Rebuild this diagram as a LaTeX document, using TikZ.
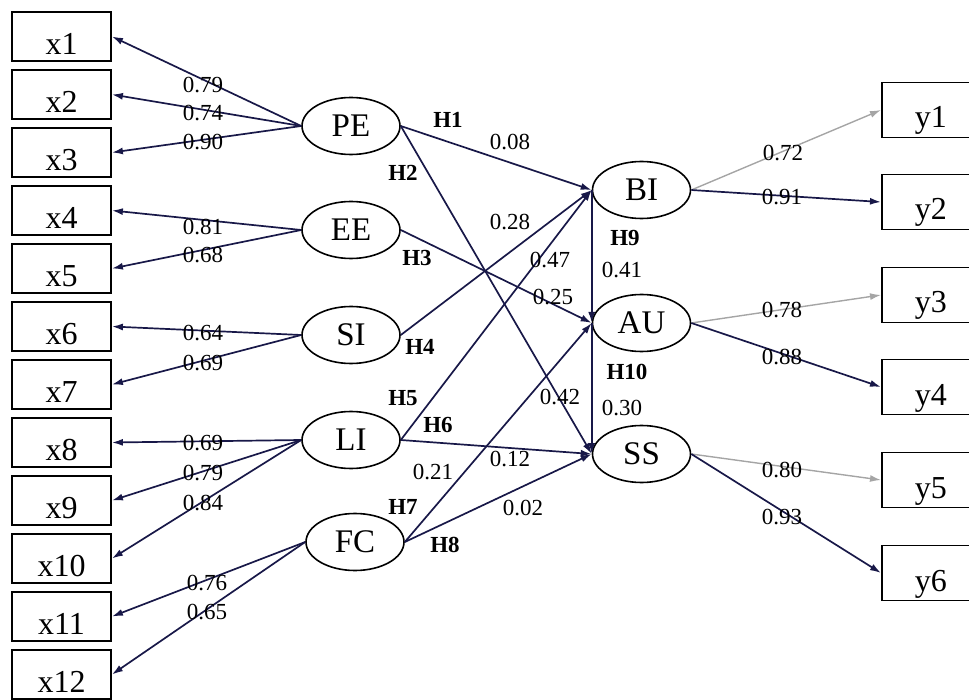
\documentclass[tikz,border=0pt]{standalone}
\usepackage{fontspec}
\setmainfont{Liberation Serif}
\usetikzlibrary{shapes.geometric,arrows.meta}
\definecolor{navy}{RGB}{24,24,72}
\definecolor{lgray}{RGB}{165,165,165}
\tikzset{
  obs/.style={draw=black, line width=1.8pt, rectangle, inner sep=0pt,
    minimum width=99pt, minimum height=49pt, text height=36pt, text depth=0pt,
    font=\fontsize{32}{36}\selectfont},
  obsr/.style={obs, minimum width=110pt, minimum height=55pt, text height=36pt, text depth=0pt, anchor=west},
  lat/.style={draw=black, line width=1.6pt, ellipse, inner sep=0pt,
    minimum width=98pt, minimum height=57pt, font=\fontsize{33}{36}\selectfont},
  lnk/.style={draw=navy, line width=1.7pt, -{Latex[length=11pt,width=7pt]}},
  vlnk/.style={lnk, line width=2pt},
  glnk/.style={draw=lgray, line width=1.4pt, -{Latex[length=11pt,width=7pt]}},
  ld/.style={inner sep=0pt, font=\fontsize{23}{26}\selectfont},
  hd/.style={inner sep=0pt, font=\fontsize{23}{26}\selectfont\bfseries},
}
\begin{document}
\begin{tikzpicture}[x=1pt,y=-1pt]
\useasboundingbox (0,0) rectangle (969,700);
% observed left
\foreach \i in {1,...,12}{
  \node[obs] (x\i) at (61.5,{36.5+58*(\i-1)}) {x\i};
}
% latent
\node[lat] (PE) at (351,126) {PE};
\node[lat] (EE) at (351,230) {EE};
\node[lat] (SI) at (351,335) {SI};
\node[lat] (LI) at (351,440) {LI};
\node[lat] (FC) at (355,542) {FC};
\node[lat] (BI) at (641.5,190) {BI};
\node[lat] (AU) at (641.5,323) {AU};
\node[lat] (SS) at (641.5,454) {SS};
% observed right
\node[obsr] (y1) at (881,110) {\hspace*{-12pt}y1};
\node[obsr] (y2) at (881,202) {\hspace*{-12pt}y2};
\node[obsr] (y3) at (881,295) {\hspace*{-12pt}y3};
\node[obsr] (y4) at (881,387) {\hspace*{-12pt}y4};
\node[obsr] (y5) at (881,480) {\hspace*{-12pt}y5};
\node[obsr] (y6) at (881,573) {\hspace*{-12pt}y6};
% loadings left
\foreach \s/\t in {PE/x1,PE/x2,PE/x3,EE/x4,EE/x5,SI/x6,SI/x7,LI/x8,LI/x9,LI/x10,FC/x11,FC/x12}{
  \draw[lnk] (\s.west) -- (\t.east);
}
% structural paths
\draw[lnk] (PE.east) -- (BI.west);
\draw[lnk] (PE.east) -- (SS.west);
\draw[lnk] (EE.east) -- (AU.west);
\draw[lnk] (SI.east) -- (BI.west);
\draw[lnk] (LI.east) -- (BI.west);
\draw[lnk] (LI.east) -- (SS.west);
\draw[lnk] (FC.east) -- (AU.west);
\draw[lnk] (FC.east) -- (SS.west);
\draw[vlnk] (BI.west) -- (AU.west);
\draw[vlnk] (AU.west) -- (SS.west);
% loadings right
\draw[glnk] (BI.east) -- (y1.west);
\draw[lnk] (BI.east) -- (y2.west);
\draw[glnk] (AU.east) -- (y3.west);
\draw[lnk] (AU.east) -- (y4.west);
\draw[glnk] (SS.east) -- (y5.west);
\draw[lnk] (SS.east) -- (y6.west);
% left loading labels
\node[ld] (l1) at (203,85) {0.79};
\node[ld] (l2) at (203,113) {0.74};
\node[ld] (l3) at (203,142) {0.90};
\node[ld] (l4) at (203,227) {0.81};
\node[ld] (l5) at (203,255) {0.68};
\node[ld] (l6) at (203,333) {0.64};
\node[ld] (l7) at (203,363) {0.69};
\node[ld] (l8) at (203,443) {0.69};
\node[ld] (l9) at (203,473) {0.79};
\node[ld] (l10) at (203,503) {0.84};
\node[ld] (l11) at (207,583) {0.76};
\node[ld] (l12) at (207,612) {0.65};
% structural labels
\node[hd] (h1) at (448,120) {H1};
\node[ld] (c1) at (510,142) {0.08};
\node[hd] (h2) at (403,173) {H2};
\node[ld] (c4) at (510,222) {0.28};
\node[hd] (h3) at (417,258) {H3};
\node[ld] (c5) at (550,260) {0.47};
\node[ld] (c3) at (553,297) {0.25};
\node[hd] (h4) at (420,347) {H4};
\node[hd] (h5) at (403,398) {H5};
\node[ld] (c2) at (560,397) {0.42};
\node[hd] (h6) at (438,425) {H6};
\node[ld] (c6) at (510,459) {0.12};
\node[ld] (c7) at (433,472) {0.21};
\node[hd] (h7) at (403,507) {H7};
\node[ld] (c8) at (523,508) {0.02};
\node[hd] (h8) at (445,545) {H8};
\node[hd] (h9) at (625,238) {H9};
\node[ld] (c9) at (622,270) {0.41};
\node[hd] (h10) at (627,372) {H10};
\node[ld] (c10) at (622,408) {0.30};
% right labels
\node[ld] (r1) at (783,153) {0.72};
\node[ld] (r2) at (782,197) {0.91};
\node[ld] (r3) at (782,310) {0.78};
\node[ld] (r4) at (782,357) {0.88};
\node[ld] (r5) at (782,470) {0.80};
\node[ld] (r6) at (782,517) {0.93};
\end{tikzpicture}
\end{document}
